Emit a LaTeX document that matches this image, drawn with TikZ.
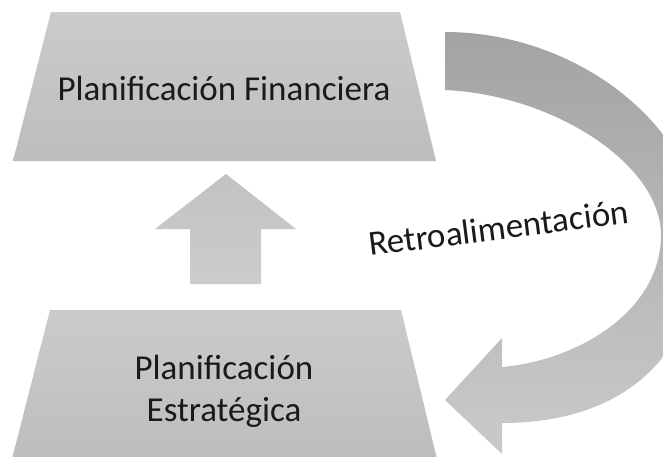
\documentclass[tikz,border=0pt]{standalone}
\usepackage{fontspec}
\setmainfont{Carlito}
\definecolor{trapTop}{HTML}{CBCBCB}
\definecolor{trapBot}{HTML}{BDBDBD}
\definecolor{upTop}{HTML}{C2C2C2}
\definecolor{upBot}{HTML}{CCCCCC}
\definecolor{curveTop}{HTML}{A3A3A3}
\definecolor{curveBot}{HTML}{CACACA}
\definecolor{ink}{HTML}{1A1A1A}
\begin{document}
\begin{tikzpicture}[x=1pt,y=-1pt,
  txt/.style={font=\fontsize{35}{42}\selectfont, text=ink, inner sep=0pt},
  trapbox/.style={top color=trapTop, bottom color=trapBot, draw=none},
  uparrow/.style={top color=upTop, bottom color=upBot, draw=none},
  loopback/.style={top color=curveTop, bottom color=curveBot, draw=none},
]
\useasboundingbox (0,0) rectangle (663,456);
\clip (0,0) rectangle (663,456);
\fill[white] (0,0) rectangle (663,456);

% top trapezoid
\coordinate (t1) at (51,12);
\coordinate (t2) at (400,12);
\coordinate (t3) at (436,161);
\coordinate (t4) at (13,161);
\path[trapbox] (t1) -- (t2) -- (t3) -- (t4) -- cycle;

% bottom trapezoid
\coordinate (b1) at (50,310);
\coordinate (b2) at (401,310);
\coordinate (b3) at (437,459);
\coordinate (b4) at (12,459);
\path[trapbox] (b1) -- (b2) -- (b3) -- (b4) -- cycle;

% up arrow
\coordinate (utip) at (226,174);
\path[uparrow] (utip) -- (296,229) -- (261,229) -- (261,284) -- (190,284) -- (190,229) -- (155,229) -- cycle;

% curved feedback arrow
\coordinate (ctail1) at (445,32);
\coordinate (ctail2) at (445,90);
\coordinate (chead) at (445,400);
\path[loopback] (ctail1)
  .. controls (580,32) and (700,130) .. (700,235)
  .. controls (700,360) and (620,423) .. (502,423)
  -- (502,454) -- (chead) -- (502,338) -- (502,367)
  .. controls (580,360) and (661,310) .. (661,235)
  .. controls (661,165) and (555,95) .. (ctail2) -- cycle;

% texts
\node[txt, anchor=base] (pf) at (224,100) {Planificación Financiera};
\node[txt, anchor=base, align=center] (pe) at (224,421) {Planificación\\Estratégica};
\node[txt, anchor=base west, rotate=7.2] (ra) at (370,256) {Retroalimentación};
\end{tikzpicture}
\end{document}
